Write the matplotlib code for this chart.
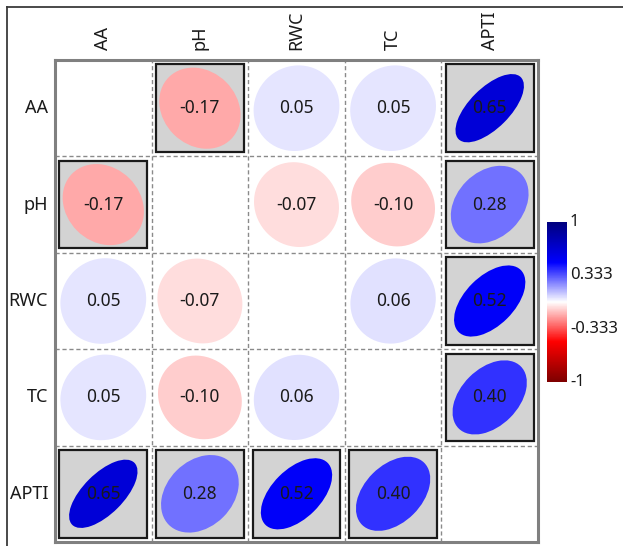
import numpy as np
import matplotlib
matplotlib.use("Agg")
import matplotlib.pyplot as plt
from matplotlib.patches import Ellipse, Rectangle
from matplotlib.colors import LinearSegmentedColormap
from matplotlib.lines import Line2D

plt.rcParams['font.family'] = ['Noto Sans', 'DejaVu Sans']

# 变量名
labels = ['AA', 'pH', 'RWC', 'TC', 'APTI']
# 相关系数矩阵
corr = [
    [1.00, -0.17, 0.05, 0.05, 0.65],
    [-0.17, 1.00, -0.07, -0.10, 0.28],
    [0.05, -0.07, 1.00, 0.06, 0.52],
    [0.05, -0.10, 0.06, 1.00, 0.40],
    [0.65, 0.28, 0.52, 0.40, 1.00],
]
# 显著的变量对（灰色背景）
sig_pairs = [('AA', 'pH'), ('AA', 'APTI'), ('pH', 'APTI'), ('RWC', 'APTI'), ('TC', 'APTI')]
cbar_ticks = [1, 0.333, -0.333, -1]

cmap = LinearSegmentedColormap.from_list(
    'rb', [(0.0, '#7f0000'), (0.25, '#ff0000'), (0.5, '#ffffff'),
           (0.75, '#0000ff'), (1.0, '#00007f')])

fig = plt.figure(figsize=(6.23, 5.46), dpi=100)
ax = fig.add_axes([55 / 623, 1 - 542 / 546, 483 / 623, 482 / 546])
n = len(labels)
ax.set_xlim(0, n)
ax.set_ylim(0, n)

sig = set()
for a, b in sig_pairs:
    sig.add((labels.index(a), labels.index(b)))
    sig.add((labels.index(b), labels.index(a)))

L = 0.455
for i in range(n):
    for j in range(n):
        if i == j:
            continue
        r = corr[i][j]
        x = j + 0.5
        y = n - 1 - i + 0.5
        if (i, j) in sig:
            ax.add_patch(Rectangle((j + 0.045, n - 1 - i + 0.045), 0.91, 0.91,
                                   facecolor='#d3d3d3', edgecolor='#1a1a1a', lw=1.6, zorder=1))
        b = L * np.sqrt((1 - abs(r)) / (1 + abs(r)))
        ang = 45 if r > 0 else -45
        ax.add_patch(Ellipse((x, y), 2 * L, 2 * b, angle=ang,
                             facecolor=cmap((r + 1) / 2), edgecolor='none', zorder=2))
        ax.text(x, y, '%.2f' % r, ha='center', va='center', fontsize=12.5,
                color='#1a1a1a', zorder=3)

# 虚线网格
for k in range(1, n):
    ax.axvline(k, color='#8a8a8a', lw=1, ls=(0, (3, 2)), zorder=0.5)
    ax.axhline(k, color='#8a8a8a', lw=1, ls=(0, (3, 2)), zorder=0.5)

ax.set_xticks([])
ax.set_yticks([])
for s in ax.spines.values():
    s.set_color('#808080')
    s.set_linewidth(2.2)

for k, lab in enumerate(labels):
    ax.text(k + 0.5, n + 0.1, lab, rotation=90, ha='center', va='bottom',
            fontsize=13, color='#1a1a1a')
    ax.text(-0.07, n - 1 - k + 0.5, lab, ha='right', va='center',
            fontsize=13, color='#1a1a1a')

# 颜色条
cax = fig.add_axes([547 / 623, 1 - 382 / 546, 20 / 623, 160 / 546])
grad = np.linspace(1, -1, 200).reshape(-1, 1)
cax.imshow(grad, cmap=cmap, vmin=-1, vmax=1, aspect='auto', extent=[0, 1, -1, 1])
cax.set_xticks([])
cax.set_yticks([])
for s in cax.spines.values():
    s.set_visible(False)
for t in cbar_ticks:
    cax.text(1.15, t, str(t), transform=cax.get_yaxis_transform(),
             ha='left', va='center', fontsize=12, color='#1a1a1a', clip_on=False)

# 外边框
fig.add_artist(Line2D([7 / 623, 7 / 623], [0, 1 - 7 / 546], color='#3a3a3a', lw=1.3))
fig.add_artist(Line2D([7 / 623, 1], [1 - 7 / 546, 1 - 7 / 546], color='#3a3a3a', lw=1.3))

fig.savefig('out.png', dpi=100)
